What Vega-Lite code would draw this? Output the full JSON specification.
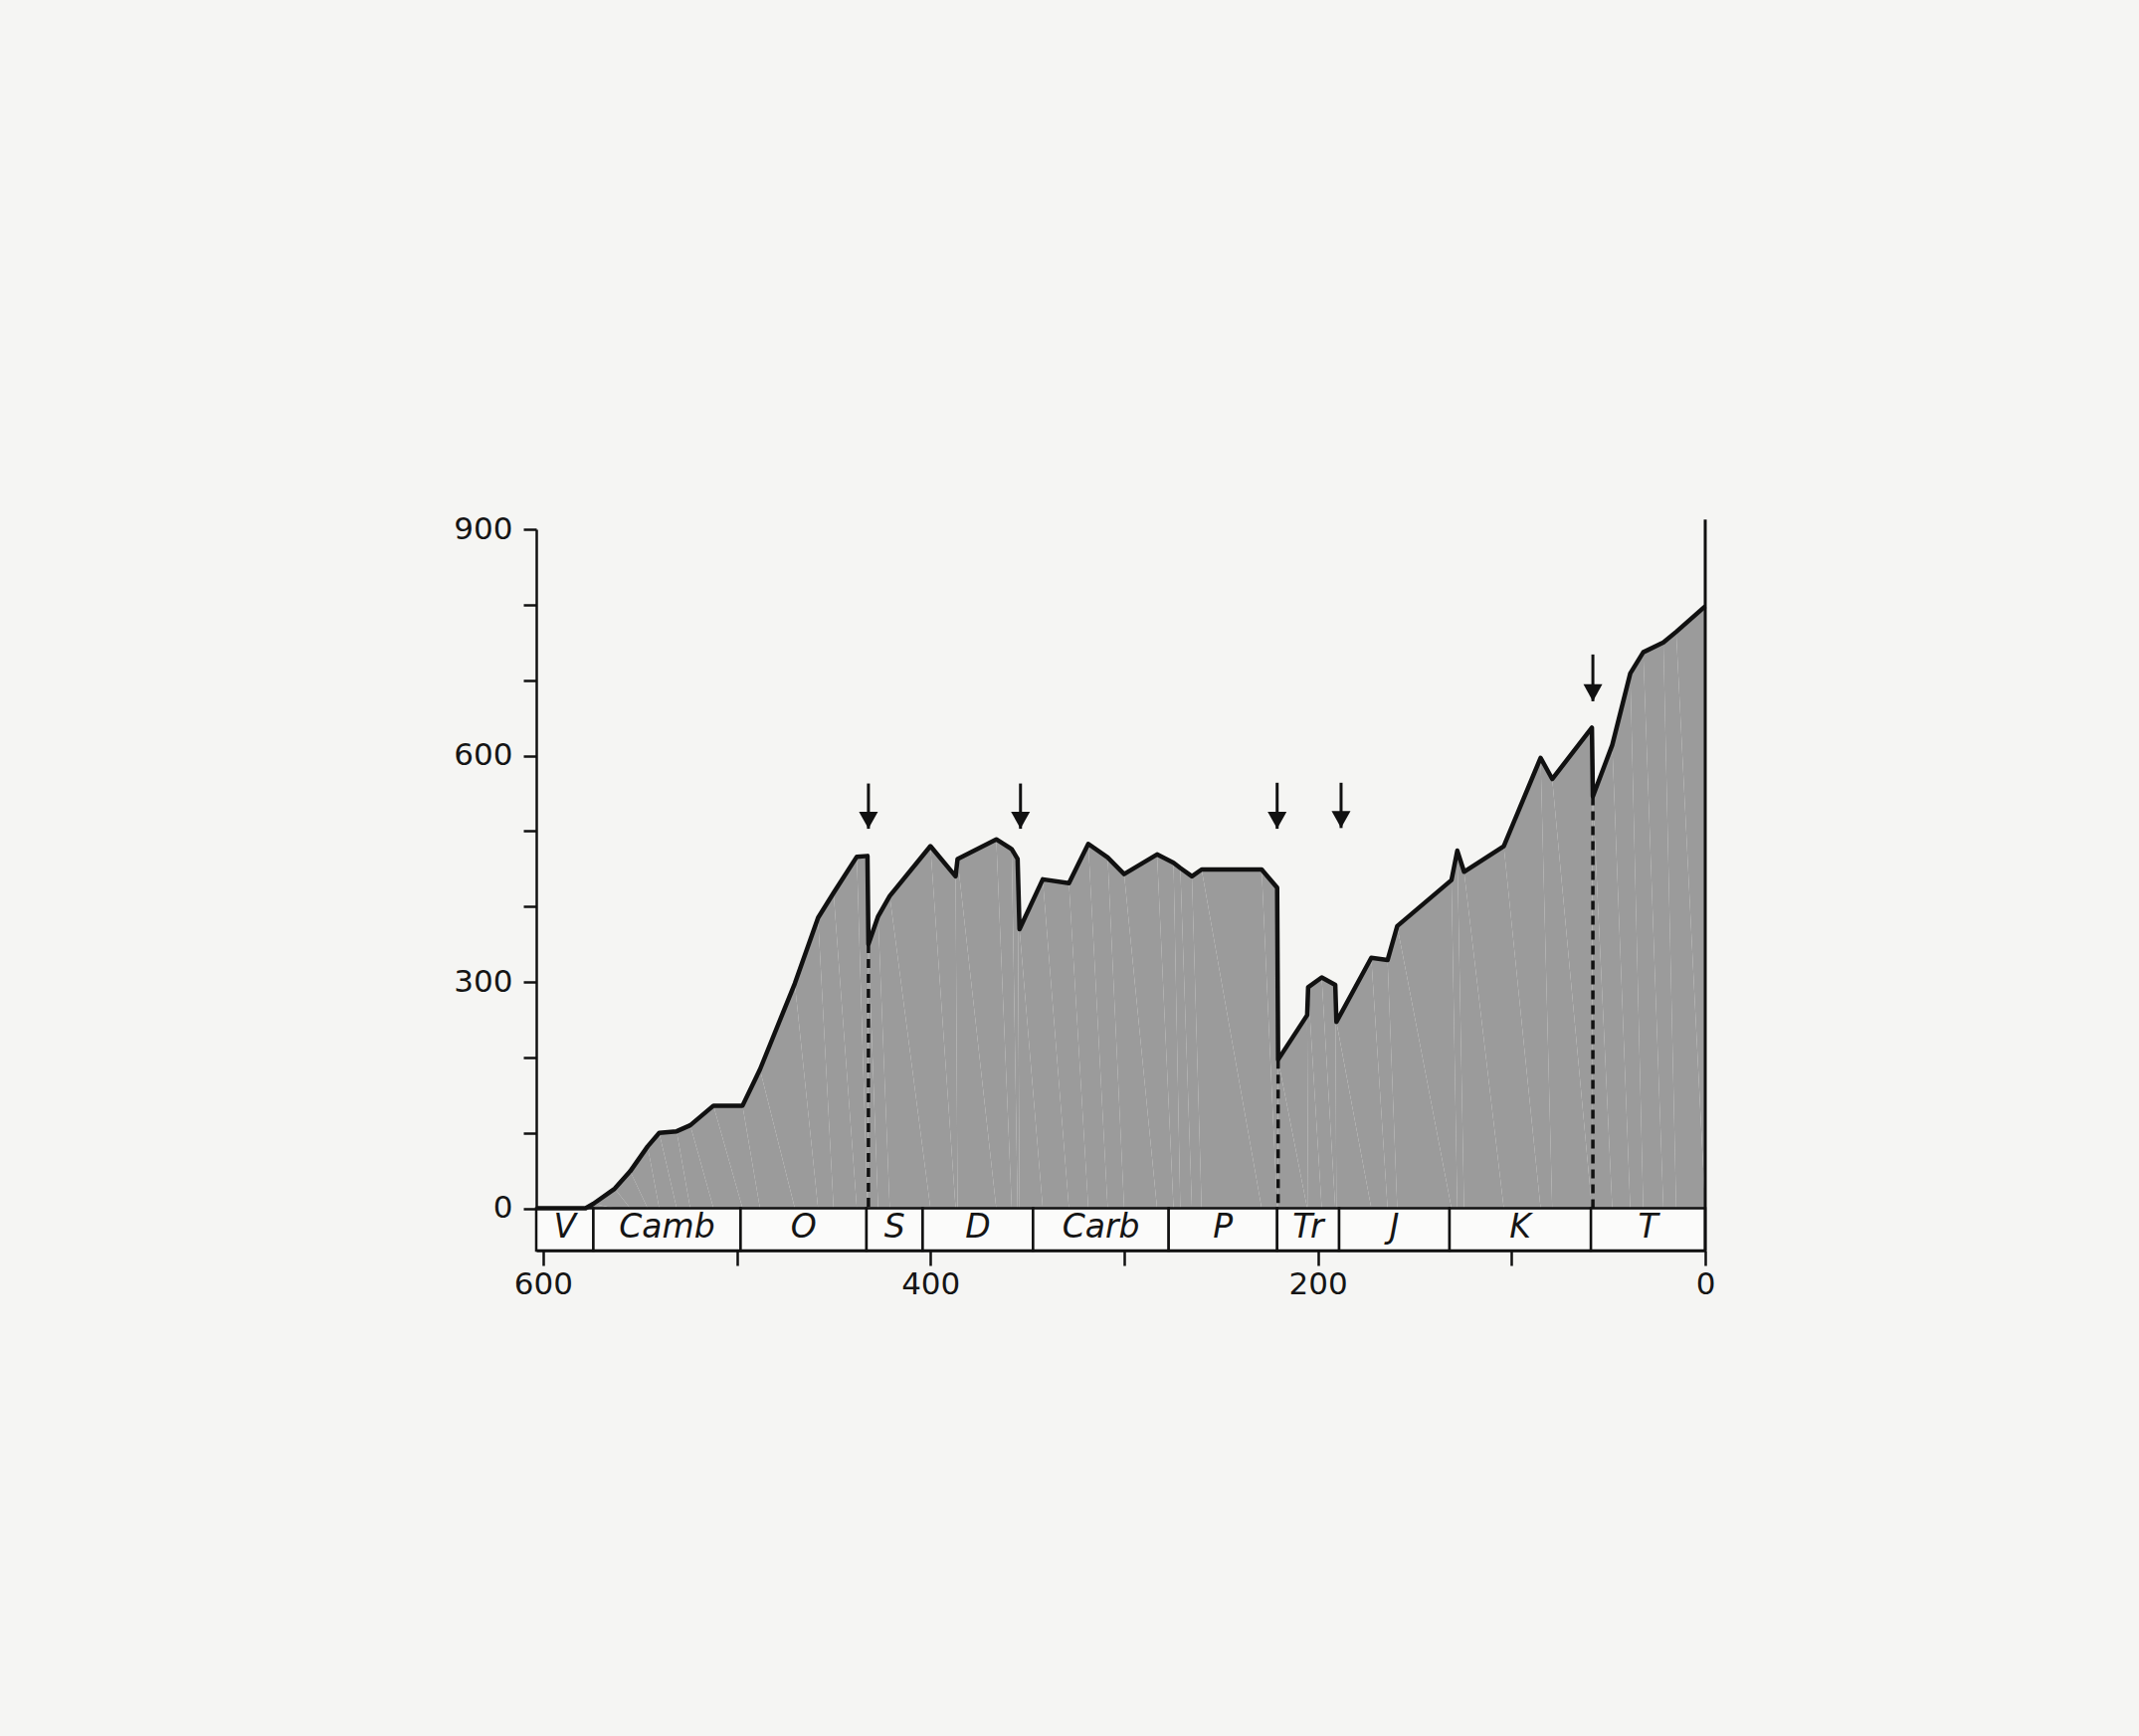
{
  "$schema": "https://vega.github.io/schema/vega-lite/v6.json",
  "width": 1175,
  "height": 725,
  "autosize": "none",
  "padding": {"left": 539, "top": 532, "right": 436, "bottom": 488},
  "background": "#f5f5f3",
  "config": {"view": {"stroke": null}, "font": "DejaVu Sans"},
  "resolve": {"axis": {"x": "independent", "y": "independent"}},
  "datasets": {
    "curve": [
      {"i": 1, "ma": 603.5, "val": 0}, {"i": 2, "ma": 578, "val": 0}, {"i": 3, "ma": 574, "val": 6},
      {"i": 4, "ma": 563, "val": 26}, {"i": 5, "ma": 555, "val": 49}, {"i": 6, "ma": 546, "val": 82},
      {"i": 7, "ma": 540, "val": 100}, {"i": 8, "ma": 531, "val": 102}, {"i": 9, "ma": 524, "val": 110},
      {"i": 10, "ma": 512, "val": 136}, {"i": 11, "ma": 497, "val": 136}, {"i": 12, "ma": 488, "val": 184},
      {"i": 13, "ma": 470, "val": 298}, {"i": 14, "ma": 458, "val": 385}, {"i": 15, "ma": 450, "val": 418},
      {"i": 16, "ma": 438, "val": 466}, {"i": 17, "ma": 432.5, "val": 467}, {"i": 18, "ma": 432, "val": 350},
      {"i": 19, "ma": 427, "val": 387}, {"i": 20, "ma": 421, "val": 414}, {"i": 21, "ma": 400, "val": 480},
      {"i": 22, "ma": 387, "val": 440}, {"i": 23, "ma": 386, "val": 463}, {"i": 24, "ma": 366, "val": 489},
      {"i": 25, "ma": 358, "val": 476}, {"i": 26, "ma": 355, "val": 463}, {"i": 27, "ma": 354, "val": 370},
      {"i": 28, "ma": 342, "val": 436}, {"i": 29, "ma": 328.5, "val": 431}, {"i": 30, "ma": 318.5, "val": 483},
      {"i": 31, "ma": 308.5, "val": 465}, {"i": 32, "ma": 300, "val": 443}, {"i": 33, "ma": 283, "val": 469},
      {"i": 34, "ma": 274.5, "val": 458}, {"i": 35, "ma": 271, "val": 451}, {"i": 36, "ma": 265, "val": 440},
      {"i": 37, "ma": 260, "val": 449}, {"i": 38, "ma": 229, "val": 449}, {"i": 39, "ma": 221, "val": 425},
      {"i": 40, "ma": 220.5, "val": 197}, {"i": 41, "ma": 205.5, "val": 256}, {"i": 42, "ma": 205, "val": 293},
      {"i": 43, "ma": 198, "val": 306}, {"i": 44, "ma": 191, "val": 296}, {"i": 45, "ma": 190.4, "val": 247},
      {"i": 46, "ma": 172.4, "val": 332}, {"i": 47, "ma": 164, "val": 329}, {"i": 48, "ma": 159, "val": 374},
      {"i": 49, "ma": 131, "val": 435}, {"i": 50, "ma": 128, "val": 474}, {"i": 51, "ma": 124.5, "val": 446},
      {"i": 52, "ma": 104, "val": 480}, {"i": 53, "ma": 85, "val": 597}, {"i": 54, "ma": 79, "val": 569},
      {"i": 55, "ma": 58.5, "val": 637}, {"i": 56, "ma": 58, "val": 546}, {"i": 57, "ma": 48, "val": 614},
      {"i": 58, "ma": 38.7, "val": 709}, {"i": 59, "ma": 32, "val": 737}, {"i": 60, "ma": 21.6, "val": 750},
      {"i": 61, "ma": 15, "val": 764}, {"i": 62, "ma": 0, "val": 798}
    ],
    "periods": [
      {"label": "V", "start": 603.5, "end": 574},
      {"label": "Camb", "start": 574, "end": 498},
      {"label": "O", "start": 498, "end": 433},
      {"label": "S", "start": 433, "end": 404},
      {"label": "D", "start": 404, "end": 347},
      {"label": "Carb", "start": 347, "end": 277},
      {"label": "P", "start": 277, "end": 221},
      {"label": "Tr", "start": 221, "end": 189},
      {"label": "J", "start": 189, "end": 132},
      {"label": "K", "start": 132, "end": 59},
      {"label": "T", "start": 59, "end": 0}
    ],
    "drops": [
      {"ma": 432, "val": 350},
      {"ma": 220.5, "val": 197},
      {"ma": 58, "val": 546}
    ],
    "arrows": [
      {"ma": 432, "top": 563, "tip": 503},
      {"ma": 353.5, "top": 563, "tip": 503},
      {"ma": 221, "top": 564, "tip": 503},
      {"ma": 188, "top": 564, "tip": 504},
      {"ma": 58, "top": 734, "tip": 672}
    ],
    "edge": [{"ma": 0, "lo": -56, "hi": 913}]
  },
  "layer": [
    {
      "data": {"name": "curve"},
      "mark": {"type": "area", "fill": "#9b9b9b", "opacity": 1, "fillOpacity": 1},
      "encoding": {
        "x": {"field": "ma", "type": "quantitative", "scale": {"domain": [603.5, 0], "nice": false},
          "axis": {"values": [600, 500, 400, 300, 200, 100, 0], "labelExpr": "datum.value % 200 == 0 ? datum.label : ''",
            "title": null, "grid": false, "tickSize": 15, "tickWidth": 2.5, "tickColor": "#111", "domainColor": "#111", "domainWidth": 2.5,
            "labelFontSize": 31, "labelColor": "#151515", "labelPadding": 4, "labelFlush": false, "labelFont": "DejaVu Sans"}},
        "y": {"field": "val", "type": "quantitative", "scale": {"domain": [-56, 900], "nice": false, "zero": false},
          "axis": {"values": [0, 100, 200, 300, 400, 500, 600, 700, 800, 900], "labelExpr": "datum.value % 300 == 0 ? datum.label : ''",
            "title": null, "grid": false, "tickSize": 13, "tickWidth": 2.5, "tickColor": "#111", "domainColor": "#111", "domainWidth": 2.5,
            "labelFontSize": 31, "labelColor": "#151515", "labelPadding": 11, "labelFont": "DejaVu Sans"}},
        "order": {"field": "i", "type": "quantitative"}
      }
    },
    {
      "data": {"name": "periods"},
      "mark": {"type": "rect", "fill": "#fbfbfa", "stroke": "#111", "strokeWidth": 2.5},
      "encoding": {
        "x": {"field": "start", "type": "quantitative", "scale": {"domain": [603.5, 0], "nice": false}, "axis": null},
        "x2": {"field": "end"},
        "y": {"datum": 0, "type": "quantitative", "scale": {"domain": [-56, 900], "nice": false, "zero": false}, "axis": null},
        "y2": {"datum": -56}
      }
    },
    {
      "data": {"name": "periods"},
      "transform": [{"calculate": "(datum.start + datum.end) / 2", "as": "mid"}],
      "mark": {"type": "text", "fontSize": 33, "fontStyle": "italic", "color": "#151515", "baseline": "middle", "align": "center", "font": "DejaVu Sans"},
      "encoding": {
        "x": {"field": "mid", "type": "quantitative", "scale": {"domain": [603.5, 0], "nice": false}, "axis": null},
        "y": {"datum": -26, "type": "quantitative", "scale": {"domain": [-56, 900], "nice": false, "zero": false}, "axis": null},
        "text": {"field": "label", "type": "nominal"}
      }
    },
    {
      "data": {"name": "drops"},
      "mark": {"type": "rule", "color": "#111", "strokeWidth": 3.5, "strokeDash": [9, 6]},
      "encoding": {
        "x": {"field": "ma", "type": "quantitative", "scale": {"domain": [603.5, 0], "nice": false}, "axis": null},
        "y": {"field": "val", "type": "quantitative", "scale": {"domain": [-56, 900], "nice": false, "zero": false}, "axis": null},
        "y2": {"datum": 0}
      }
    },
    {
      "data": {"name": "curve"},
      "mark": {"type": "line", "color": "#111", "strokeWidth": 4.5, "strokeJoin": "round"},
      "encoding": {
        "x": {"field": "ma", "type": "quantitative", "scale": {"domain": [603.5, 0], "nice": false}, "axis": null},
        "y": {"field": "val", "type": "quantitative", "scale": {"domain": [-56, 900], "nice": false, "zero": false}, "axis": null},
        "order": {"field": "i", "type": "quantitative"}
      }
    },
    {
      "data": {"name": "edge"},
      "mark": {"type": "rule", "color": "#111", "strokeWidth": 3},
      "encoding": {
        "x": {"field": "ma", "type": "quantitative", "scale": {"domain": [603.5, 0], "nice": false}, "axis": null},
        "y": {"field": "lo", "type": "quantitative", "scale": {"domain": [-56, 900], "nice": false, "zero": false}, "axis": null},
        "y2": {"field": "hi"}
      }
    },
    {
      "data": {"name": "arrows"},
      "mark": {"type": "rule", "color": "#111", "strokeWidth": 3},
      "encoding": {
        "x": {"field": "ma", "type": "quantitative", "scale": {"domain": [603.5, 0], "nice": false}, "axis": null},
        "y": {"field": "top", "type": "quantitative", "scale": {"domain": [-56, 900], "nice": false, "zero": false}, "axis": null},
        "y2": {"field": "tip"}
      }
    },
    {
      "data": {"name": "arrows"},
      "mark": {"type": "point", "shape": "M-1,-1.8L1,-1.8L0,0Z", "filled": true, "color": "#111", "opacity": 1, "size": 361},
      "encoding": {
        "x": {"field": "ma", "type": "quantitative", "scale": {"domain": [603.5, 0], "nice": false}, "axis": null},
        "y": {"field": "tip", "type": "quantitative", "scale": {"domain": [-56, 900], "nice": false, "zero": false}, "axis": null}
      }
    }
  ]
}
